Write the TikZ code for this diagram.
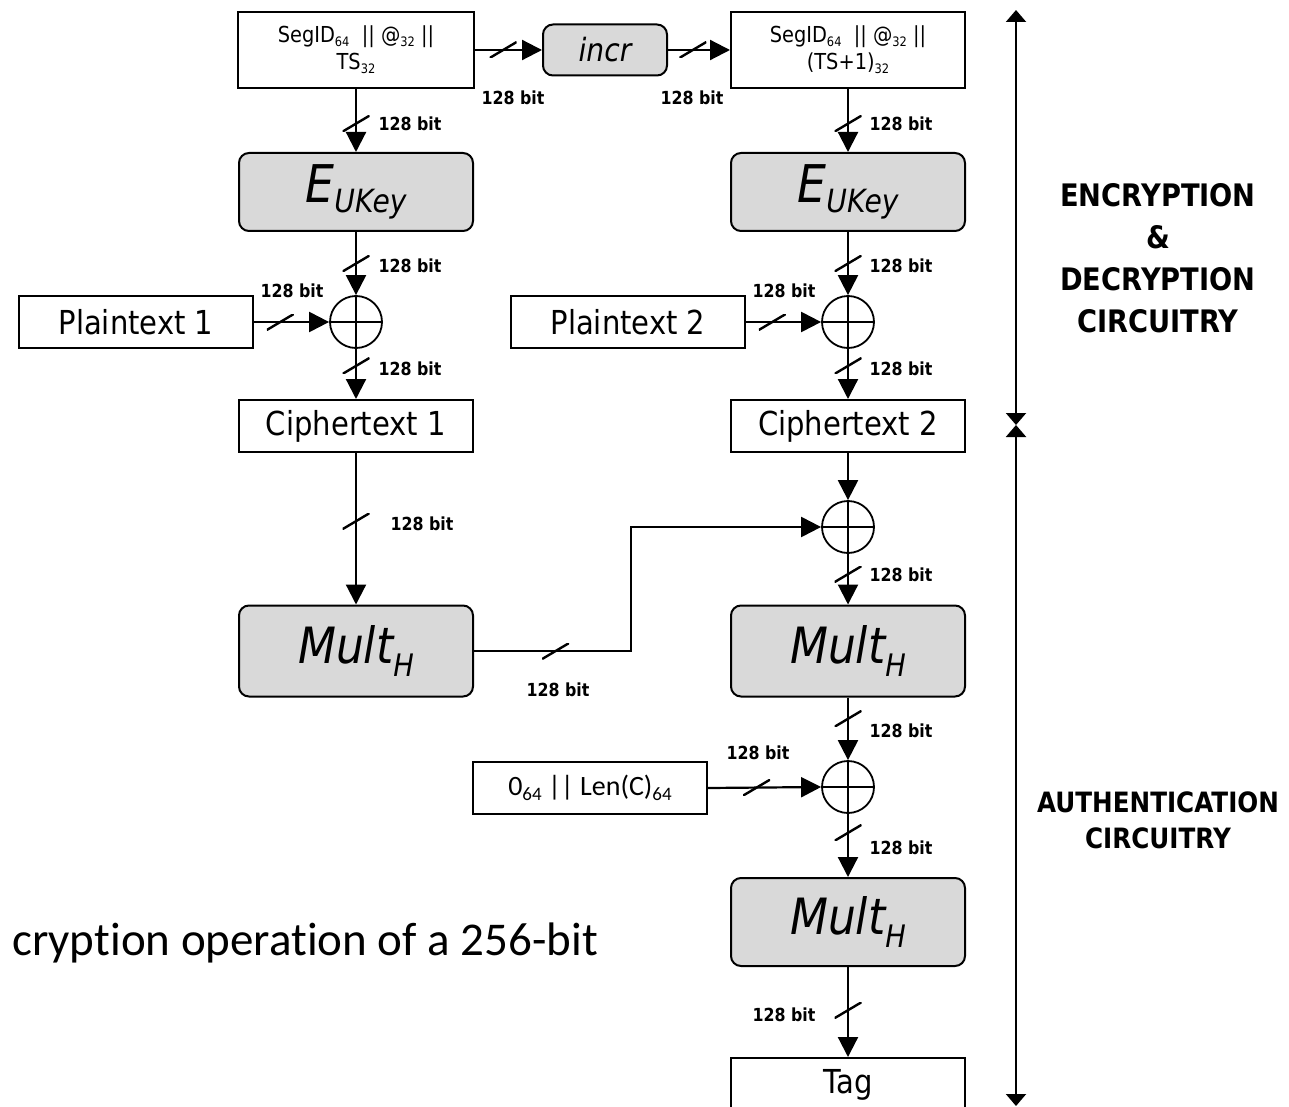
\documentclass[tikz,border=0pt]{standalone}
\usepackage{fontspec}
\setmainfont{DejaVu Sans}[FakeStretch=0.88]
\newfontfamily\calfont{Carlito}[Ligatures={NoCommon}]
\usetikzlibrary{arrows.meta}
\definecolor{boxgray}{HTML}{D9D9D9}
\newcommand\fs[1]{\fontsize{#1}{#1}\selectfont}
\newcommand\sbs[1]{\raisebox{-0.35ex}{\fs{13}#1}}
\newcommand\csub[1]{\raisebox{-0.4ex}{\fs{19}#1}}
\begin{document}
\begin{tikzpicture}[x=1pt,y=-1pt,
  box/.style={draw, line width=2pt, rectangle, minimum width=234pt,
    minimum height=52pt, inner sep=0pt, font=\fs{33}},
  opbox/.style={box, fill=boxgray, rounded corners=10pt},
  xor/.style={circle, draw, line width=1.8pt, minimum size=52pt, inner sep=0pt,
    path picture={\draw[-, line width=1.8pt]
      (path picture bounding box.north) -- (path picture bounding box.south)
      (path picture bounding box.west) -- (path picture bounding box.east);}},
  arr/.style={line width=2.2pt, -{Triangle[length=20pt,width=20pt]}},
  bus/.style={inner sep=0pt, minimum width=27pt, minimum height=16pt,
    path picture={\draw[-, line width=2.4pt]
      (path picture bounding box.south west) -- (path picture bounding box.north east);}},
  lbl/.style={font=\bfseries\fs{18}, inner sep=0pt},
  side/.style={line width=2pt,
    {Triangle[length=12pt,width=20pt]}-{Triangle[length=12pt,width=20pt]}},
  region/.style={font=\bfseries\fontsize{31}{42}\selectfont, align=center, inner sep=0pt},
]
\useasboundingbox (0,0) rectangle (1289,1107);

% counter block
\node[box, minimum width=236pt, minimum height=76pt, align=center,
  font=\fontsize{22}{27}\selectfont] (topL) at (356,50)
  {SegID\sbs{64}~~|| @\sbs{32} ||\\TS\sbs{32}};
\node[opbox, minimum width=124pt, minimum height=51pt, font=\itshape\fs{32}] (incr) at (605,50) {incr};
\node[box, minimum height=76pt, align=center,
  font=\fontsize{22}{27}\selectfont] (topR) at (848,50)
  {SegID\sbs{64}~~|| @\sbs{32} ||\\(TS+1)\sbs{32}};

% encryption stages
\node[opbox, minimum height=78pt] (eu1) at (356,192)
  {\itshape\fs{52}E\raisebox{-10pt}{\fs{32}UKey}};
\node[opbox, minimum height=78pt] (eu2) at (848,192)
  {\itshape\fs{52}E\raisebox{-10pt}{\fs{32}UKey}};

\node[xor] (x1) at (356,322) {};
\node[xor] (x2) at (848,322) {};
\node[box] (p1) at (136,322) {Plaintext 1};
\node[box] (p2) at (628,322) {Plaintext 2};
\node[box] (c1) at (356,426) {Ciphertext 1};
\node[box] (c2) at (848,426) {Ciphertext 2};

% authentication stages
\node[xor] (x3) at (848,527) {};
\node[opbox, minimum height=91pt] (m1) at (356,651)
  {\itshape\fs{50}Mult\raisebox{-13pt}{\fs{31}H}};
\node[opbox, minimum height=91pt] (m2) at (848,651)
  {\itshape\fs{50}Mult\raisebox{-13pt}{\fs{31}H}};
\node[xor] (x4) at (848,787) {};
\node[box, font=\calfont\fs{28}] (len) at (590,788) {0\csub{64} || Len(C)\csub{64}};
\node[opbox, minimum height=88pt] (m3) at (848,922)
  {\itshape\fs{50}Mult\raisebox{-13pt}{\fs{31}H}};
\node[box, minimum height=54pt] (tag) at (848,1085) {Tag};

% connectors
\draw[arr] (topL.east) -- node[bus,pos=0.42]{} (incr.west);
\draw[arr] (incr.east) -- node[bus,pos=0.4]{} (topR.west);
\draw[arr] (topL.south) -- node[bus,pos=0.55]{} (eu1.north);
\draw[arr] (topR.south) -- node[bus,pos=0.55]{} (eu2.north);
\draw[arr] (eu1.south) -- node[bus,pos=0.5]{} (x1.north);
\draw[arr] (eu2.south) -- node[bus,pos=0.5]{} (x2.north);
\draw[arr] (p1.east) -- node[bus,pos=0.35]{} (x1.west);
\draw[arr] (p2.east) -- node[bus,pos=0.35]{} (x2.west);
\draw[arr] (x1.south) -- node[bus,pos=0.34]{} (c1.north);
\draw[arr] (x2.south) -- node[bus,pos=0.34]{} (c2.north);
\draw[arr] (c1.south) -- node[bus,pos=0.45]{} (m1.north);
\draw[arr] (c2.south) -- (x3.north);
\draw[arr] (m1.east) -- node[bus,pos=0.52]{} ++(157,0) |- (x3.west);
\draw[arr] (x3.south) -- node[bus,pos=0.4]{} (m2.north);
\draw[arr] (m2.south) -- node[bus,pos=0.34]{} (x4.north);
\draw[arr] (len.east) -- node[bus,pos=0.43]{} (x4.west);
\draw[arr] (x4.south) -- node[bus,pos=0.3]{} (m3.north);
\draw[arr] (m3.south) -- node[bus,pos=0.48]{} (tag.north);

% bus widths
\node[lbl] (w1) at (513,98) {128 bit};
\node[lbl] (w2) at (692,98) {128 bit};
\node[lbl] (w3) at (410,124) {128 bit};
\node[lbl] (w4) at (901,124) {128 bit};
\node[lbl] (w5) at (410,266) {128 bit};
\node[lbl] (w6) at (901,266) {128 bit};
\node[lbl] (w7) at (292,291) {128 bit};
\node[lbl] (w8) at (784,291) {128 bit};
\node[lbl] (w9) at (410,369) {128 bit};
\node[lbl] (w10) at (901,369) {128 bit};
\node[lbl] (w11) at (422,524) {128 bit};
\node[lbl] (w12) at (901,575) {128 bit};
\node[lbl] (w13) at (558,690) {128 bit};
\node[lbl] (w14) at (901,731) {128 bit};
\node[lbl] (w15) at (758,753) {128 bit};
\node[lbl] (w16) at (901,848) {128 bit};
\node[lbl] (w17) at (784,1015) {128 bit};

% circuit extents
\coordinate (encTop) at (1016,10);
\coordinate (split) at (1016,425);
\coordinate (authBot) at (1016,1106);
\draw[side] (encTop) -- (split);
\draw[side] (split) -- (authBot);
\node[region] (enc) at (1158,258) {ENCRYPTION\\\&\\DECRYPTION\\CIRCUITRY};
\node[region, font=\bfseries\fontsize{28}{36}\selectfont] (auth) at (1158,820)
  {AUTHENTICATION\\CIRCUITRY};

\node[anchor=west, inner sep=0pt, font=\calfont\fs{47}] (caption) at (12,943)
  {cryption operation of a 256-bit};
\end{tikzpicture}
\end{document}
